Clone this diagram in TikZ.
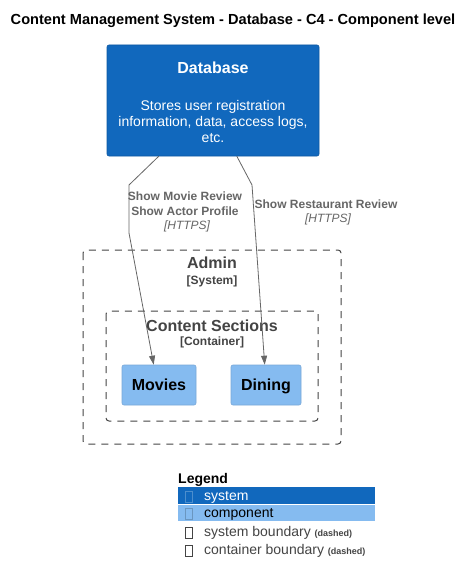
\documentclass[tikz,border=0pt]{standalone}
\usepackage{fontspec}
\setmainfont{Liberation Sans}
\usetikzlibrary{arrows.meta}
\definecolor{sysblue}{HTML}{1168BD}
\definecolor{compblue}{HTML}{85BBF0}
\definecolor{edgegray}{HTML}{666666}
\definecolor{bndgray}{HTML}{444444}
\newcommand{\fs}[1]{\fontsize{#1}{#1}\selectfont}
\tikzset{
  sysbox/.style={draw=sysblue!85!black, fill=sysblue, rounded corners=2pt, line width=0.6pt},
  compbox/.style={draw=compblue!90!black, fill=compblue, rounded corners=2pt, line width=0.6pt, text=black, font=\fs{16}\bfseries},
  bound/.style={draw=bndgray, dash pattern=on 7pt off 6pt, rounded corners=3pt, line width=1pt},
  arr/.style={draw=edgegray, line width=0.8pt, -{Triangle[length=9pt,width=6pt]}},
  elabel/.style={text=edgegray, font=\fs{12}\bfseries, align=center, inner sep=0pt},
  etech/.style={text=edgegray, font=\fs{12}\itshape, inner sep=0pt},
  btitle/.style={text=bndgray, font=\fs{16}\bfseries, inner sep=0pt},
  bsub/.style={text=bndgray, font=\fs{12}\bfseries, inner sep=0pt},
  legtxt/.style={anchor=west, inner sep=0pt, font=\fs{14}},
  glyph/.style={draw, line width=0.6pt, minimum width=7pt, minimum height=11pt, inner sep=0pt},
}
\begin{document}
\begin{tikzpicture}[x=1pt,y=-1pt]
\useasboundingbox (0,0) rectangle (474,583);
\fill[white] (0,0) rectangle (474,583);
% title
\node[font=\fs{14.6}\bfseries, inner sep=0pt] (title) at (233,21) {Content Management System - Database - C4 - Component level};
% database
\path[sysbox] (107,45) rectangle (319,156);
\node[inner sep=0pt, minimum width=212pt, minimum height=111pt] (db) at (213,100.5) {};
\node[text=white, font=\fs{16}\bfseries, inner sep=0pt] (dbt) at (213,67.5) {Database};
\node[text=white, font=\fs{14}, align=center, inner sep=0pt] (dbd) at (213,121) {Stores user registration\\[2pt]information, data, access logs,\\[2pt]etc.};
% boundaries
\path[bound] (83,250) rectangle (341,444);
\node[inner sep=0pt, minimum width=258pt, minimum height=194pt] (admin) at (212,347) {};
\node[btitle] (admint) at (212,263) {Admin};
\node[bsub] (admins) at (212,281) {[System]};
\path[bound] (106,311) rectangle (318,421);
\node[inner sep=0pt, minimum width=212pt, minimum height=110pt] (cs) at (212,366) {};
\node[btitle] (cst) at (212,326) {Content Sections};
\node[bsub] (css) at (212,342) {[Container]};
% components
\node[compbox, minimum width=74pt, minimum height=40pt, text depth=0pt, text height=11.5pt] (movies) at (159,385) {Movies};
\node[compbox, minimum width=70pt, minimum height=40pt, text depth=0pt, text height=11.5pt] (dining) at (266,385) {Dining};
% edges
\coordinate (l1) at (129,185);
\coordinate (l2) at (129,233);
\coordinate (r1) at (252,185);
\draw[arr] ([xshift=52pt]db.south west) -- (l1) -- (l2) -- ([xshift=32pt]movies.north west);
\draw[arr] ([xshift=130pt]db.south west) -- (r1) -- ([xshift=34pt]dining.north west);
\node[elabel] (lab1) at (185,204) {Show Movie Review\\[3pt]Show Actor Profile};
\node[etech] (tech1) at (187,226) {[HTTPS]};
\node[elabel] (lab2) at (326,204) {Show Restaurant Review};
\node[etech] (tech2) at (328,219) {[HTTPS]};
% legend
\node[font=\fs{14}\bfseries, anchor=west, inner sep=0pt] (legend) at (178,480) {Legend};
\fill[sysblue] (178,487) rectangle (375,504);
\fill[compblue] (178,505) rectangle (375,521);
\node[glyph, draw=sysblue!75!white] (g1) at (189,497) {};
\node[glyph, draw=compblue!80!black] (g2) at (189,514) {};
\node[glyph, draw=bndgray] (g3) at (189,533) {};
\node[glyph, draw=bndgray] (g4) at (189,551) {};
\node[legtxt, text=white] (t1) at (204,497) {system};
\node[legtxt, text=black] (t2) at (204,514) {component};
\node[legtxt, text=bndgray] (t3) at (204,533) {system boundary {\fs{9}\bfseries (dashed)}};
\node[legtxt, text=bndgray] (t4) at (204,551) {container boundary {\fs{9}\bfseries (dashed)}};
\end{tikzpicture}
\end{document}
